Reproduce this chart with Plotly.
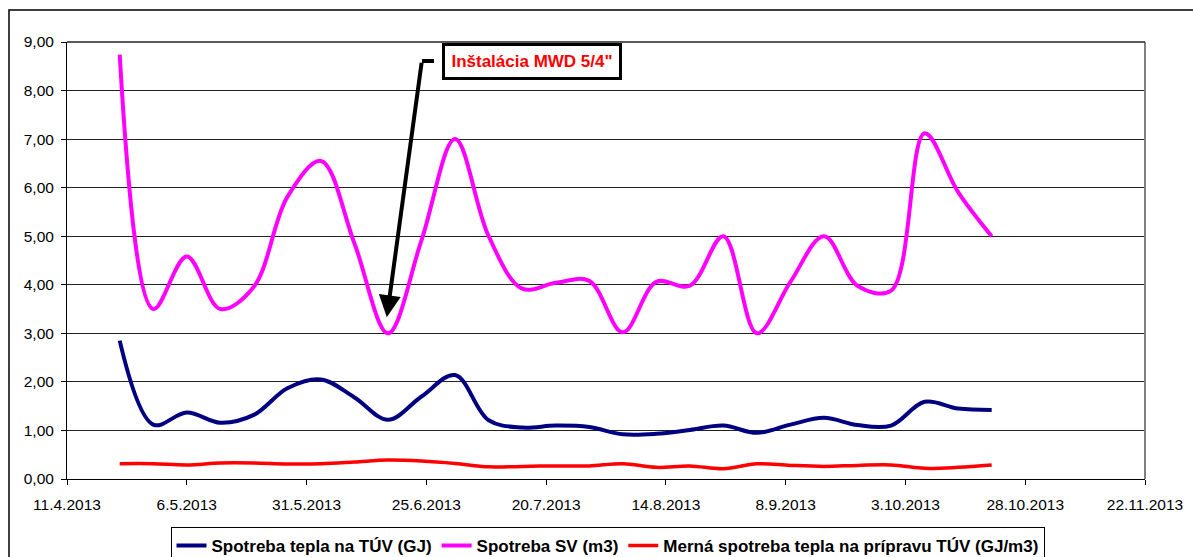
import plotly.graph_objects as go

dates = ["2013-04-22", "2013-04-29", "2013-05-06", "2013-05-13", "2013-05-20", "2013-05-27",
         "2013-06-03", "2013-06-10", "2013-06-17", "2013-06-24", "2013-07-01", "2013-07-08",
         "2013-07-15", "2013-07-22", "2013-07-29", "2013-08-05", "2013-08-12", "2013-08-19",
         "2013-08-26", "2013-09-02", "2013-09-09", "2013-09-16", "2013-09-23", "2013-09-30",
         "2013-10-07", "2013-10-14", "2013-10-21"]

heat_gj = [2.85, 1.12, 1.37, 1.16, 1.32, 1.87, 2.05, 1.68, 1.22, 1.70, 2.14, 1.21, 1.06, 1.10,
           1.07, 0.92, 0.93, 1.01, 1.10, 0.95, 1.12, 1.26, 1.11, 1.10, 1.59, 1.45, 1.42]

water_m3 = [8.74, 3.50, 4.58, 3.50, 3.96, 5.81, 6.55, 4.85, 3.00, 4.92, 7.00, 5.00, 3.92, 4.04,
            4.08, 3.02, 4.06, 3.98, 5.00, 3.00, 4.06, 5.00, 3.98, 3.88, 7.12, 5.91, 5.00]

specific = [0.315, 0.315, 0.29, 0.33, 0.33, 0.31, 0.315, 0.35, 0.39, 0.37, 0.32, 0.25, 0.26, 0.27,
            0.27, 0.315, 0.24, 0.27, 0.21, 0.315, 0.28, 0.26, 0.28, 0.29, 0.22, 0.24, 0.29]

names = ["Spotreba tepla na TÚV (GJ)", "Spotreba SV (m3)", "Merná spotreba tepla na prípravu TÚV (GJ/m3)"]
colors = ["#000080", "#FF00FF", "#FF0000"]
widths = [4, 4, 3.5]

x_tickvals = ["2013-04-11", "2013-05-06", "2013-05-31", "2013-06-25", "2013-07-20", "2013-08-14",
              "2013-09-08", "2013-10-03", "2013-10-28", "2013-11-22"]
x_ticktext = ["11.4.2013", "6.5.2013", "31.5.2013", "25.6.2013", "20.7.2013", "14.8.2013",
              "8.9.2013", "3.10.2013", "28.10.2013", "22.11.2013"]
y_tickvals = [0, 1, 2, 3, 4, 5, 6, 7, 8, 9]
y_ticktext = ["0,00", "1,00", "2,00", "3,00", "4,00", "5,00", "6,00", "7,00", "8,00", "9,00"]

annot_text = 'Inštalácia MWD 5/4"'
arrow_tip_x = "2013-06-16 18:00"
arrow_tip_y = 3.33

FONT = "Liberation Sans, Arial, sans-serif"

fig = go.Figure()
for vals, nm, c, w in zip([heat_gj, water_m3, specific], names, colors, widths):
    fig.add_trace(go.Scatter(x=dates, y=vals, name=nm, mode="lines",
                             line=dict(color=c, width=w, shape="spline", smoothing=1.0)))

fig.update_layout(
    width=1193, height=557, autosize=False,
    margin=dict(l=67, r=48, t=42, b=78, autoexpand=False),
    paper_bgcolor="white", plot_bgcolor="white",
    font=dict(family=FONT, size=15, color="black"),
    showlegend=True,
    legend=dict(orientation="h", x=0.5014, xanchor="center", y=-0.11, yanchor="top",
                bordercolor="black", borderwidth=1, bgcolor="white",
                font=dict(family=FONT, size=17, color="black", weight="bold"),
                itemwidth=30, tracegroupgap=0),
    xaxis=dict(type="date", range=["2013-04-11", "2013-11-22"],
               tickvals=x_tickvals, ticktext=x_ticktext,
               showgrid=False, zeroline=False,
               showline=True, linecolor="black", linewidth=1,
               ticks="outside", ticklen=5, tickcolor="black", tickwidth=1,
               ticklabelstandoff=6,
               tickfont=dict(family=FONT, size=15.5, color="black")),
    yaxis=dict(range=[0, 9], tickvals=y_tickvals, ticktext=y_ticktext,
               showgrid=True, gridcolor="#222222", gridwidth=1, zeroline=False,
               showline=True, linecolor="black", linewidth=1,
               ticks="outside", ticklen=5, tickcolor="black", tickwidth=1,
               ticklabelstandoff=4,
               tickfont=dict(family=FONT, size=15.5, color="black")),
)

# right border of plot area and outer chart frame
fig.add_shape(type="line", xref="paper", yref="paper", x0=1, x1=1, y0=0, y1=1,
              line=dict(color="#808080", width=2))
fig.add_shape(type="line", xref="paper", yref="paper", x0=0, x1=1, y0=1, y1=1,
              line=dict(color="#222222", width=1.5))
fig.add_shape(type="rect", xref="paper", yref="paper", x0=-0.0538, x1=1.08, y0=-0.25, y1=1.0732,
              line=dict(color="black", width=1.5), layer="below")

# annotation box
fig.add_annotation(xref="paper", yref="paper", x=0.431, y=0.955, xanchor="center", yanchor="middle",
                   text=annot_text, showarrow=False,
                   font=dict(family=FONT, size=17, color="#FF0000", weight="bold"),
                   bgcolor="white", bordercolor="black", borderwidth=3, borderpad=2,
                   width=170, height=27)
# arrow leader: short horizontal segment + arrow
fig.add_shape(type="line", xref="paper", yref="paper",
              x0=(422 - 67) / 1078, x1=(434 - 67) / 1078, y0=(479 - 61) / 437, y1=(479 - 61) / 437,
              line=dict(color="black", width=4))
fig.add_annotation(x=arrow_tip_x, y=arrow_tip_y, xref="x", yref="y", text="",
                   showarrow=True, arrowhead=2, arrowsize=1.1, arrowwidth=4, arrowcolor="black",
                   ax=35, ay=-256, standoff=0)

fig.write_html("out.html", config={"displayModeBar": False},
               post_script="document.body.style.margin='0px';")
